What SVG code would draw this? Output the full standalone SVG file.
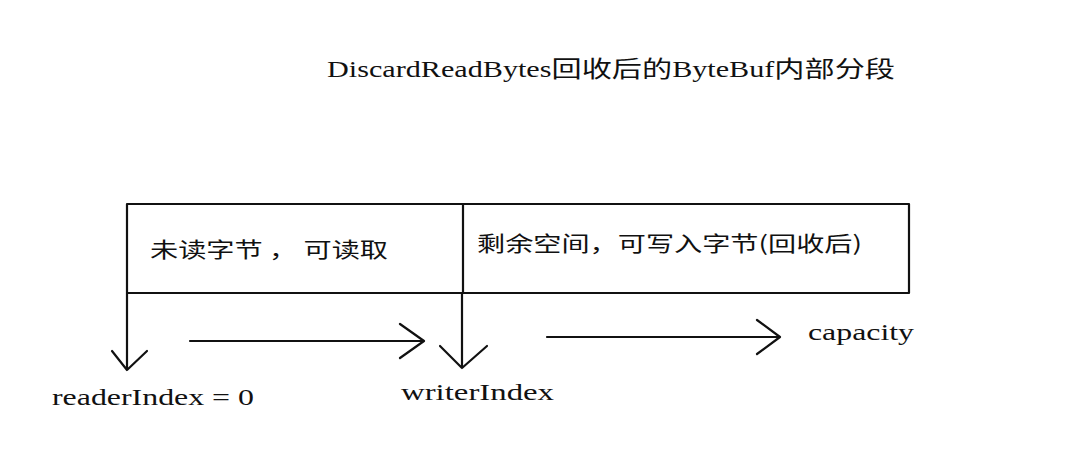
<svg xmlns="http://www.w3.org/2000/svg" width="1088" height="456" viewBox="0 0 1088 456">
<style>
.ln{stroke:#111;stroke-width:2.2;fill:none;stroke-linecap:round;stroke-linejoin:round}
.serif{font-family:"Liberation Serif","DejaVu Serif","Noto Sans CJK SC",serif;fill:#111}
.cjk{font-family:"Noto Sans CJK SC","Noto Sans",sans-serif;fill:#111}
</style>
<rect width="1088" height="456" fill="#fff"/>
<g id="title"><text class="serif" x="327" y="77" font-size="23" textLength="568" lengthAdjust="spacingAndGlyphs">DiscardReadBytes回收后的ByteBuf内部分段</text></g>
<g id="buffer">
<rect class="ln" x="127" y="204" width="782" height="89"/>
<line class="ln" x1="463" y1="204" x2="463" y2="293"/>
</g>
<g id="readable"><text class="cjk" x="150" y="257" font-size="21" textLength="238" lengthAdjust="spacingAndGlyphs">未读字节 ， 可读取</text></g>
<g id="writable"><text class="cjk" x="477" y="251" font-size="21" textLength="385" lengthAdjust="spacingAndGlyphs">剩余空间，可写入字节(回收后)</text></g>
<g id="connectors">
<path class="ln" d="M127 293 V370 M112 351 L127 370 L147 351"/>
<path class="ln" d="M462 293 V368 M440 346 L462 368 L487 346"/>
<path class="ln" d="M190 341 H424 M400 324 L424 341 L400 358"/>
<path class="ln" d="M547 337 H780 M757 320 L780 337 L757 354"/>
</g>
<g id="capacity"><text class="serif" x="808" y="340" font-size="23" textLength="106" lengthAdjust="spacingAndGlyphs">capacity</text></g>
<g id="readerIndex"><text class="serif" x="52" y="405" font-size="23" textLength="202" lengthAdjust="spacingAndGlyphs">readerIndex = 0</text></g>
<g id="writerIndex"><text class="serif" x="401" y="400" font-size="23" textLength="153" lengthAdjust="spacingAndGlyphs">writerIndex</text></g>
</svg>
